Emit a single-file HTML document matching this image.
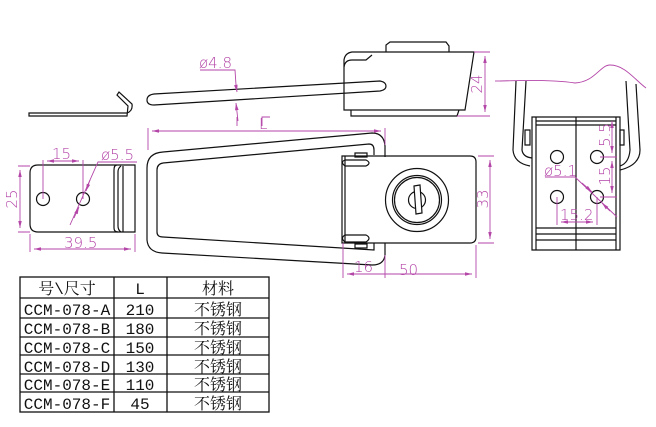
<!DOCTYPE html>
<html><head><meta charset="utf-8"><style>
html,body{margin:0;padding:0;background:#fff;}
svg{display:block}
.k{fill:none;stroke:#111;stroke-width:1.2}
.m{fill:none;stroke:#b446a8;stroke-width:0.9}
.t{fill:#b446a8;font-family:"DejaVu Sans","Liberation Sans",sans-serif;font-size:15px;font-weight:200}
.tb{font-family:"Liberation Mono","Noto Serif CJK SC",monospace;font-size:16px;fill:#111}
</style></head><body>
<svg width="656" height="427" viewBox="0 0 656 427" xmlns="http://www.w3.org/2000/svg">
<defs><marker id="a" markerWidth="8" markerHeight="6" refX="8" refY="3" orient="auto-start-reverse"><path d="M0,1 L8,3 L0,5" fill="#b446a8"/></marker></defs>

<!-- top side view -->
<path class="k" d="M29,113 L127,113 Q133,111 132,104 L119,92 L117,95 L128,106 L127,116 L29,116 Z"/>
<path class="k" d="M154,94 L380,81 Q386,82 386,86 Q386,90 380,91 L154,105 Q147,105 147,100 Q147,95 154,94 Z"/>
<path class="k" d="M344,60 Q345,53 352,52 L474,52 L465,110 L344,110 Z"/>
<path class="k" d="M344,67 Q345,60 352,60 L366,60 L372,55"/>
<path class="k" d="M386,52 L386,45 L390,42 L446,42 L449,46 L449,52"/>
<path class="k" d="M351,110 L351,116 L457,116 L459,110"/>
<path class="m" d="M200,70 L235,70 L236,85"/>
<path class="m" d="M238,121 L236,103" marker-end="url(#a)"/>
<path class="m" d="M236,86 L237,92" marker-end="url(#a)"/>
<text class="t" x="199" y="68">ø4.8</text>
<path class="m" d="M474,52 L490,52 M457,116 L490,116"/>
<path class="m" d="M485,56 L485,112" marker-start="url(#a)" marker-end="url(#a)"/>
<text class="t" transform="translate(482,84) rotate(-90)" text-anchor="middle">24</text>
<path class="m" d="M495,81 L500,81"/>

<!-- left bracket -->
<path class="k" d="M38,165 L135,165 L135,232 L38,232 Q30,232 30,224 L30,173 Q30,165 38,165 Z"/>
<path class="k" d="M117,165 Q114,165 114,170 L114,228 Q114,232 118,232 M121,166 Q118,168 118,172 L118,226 Q118,230 121,232 M123,166 L123,232"/>
<circle class="k" cx="43" cy="199" r="6.5"/>
<circle class="k" cx="83" cy="199" r="6.5"/>
<path class="m" d="M43,199 L43,160 M83,199 L83,160"/>
<path class="m" d="M47,161 L79,161" marker-start="url(#a)" marker-end="url(#a)"/>
<text class="t" x="52" y="159">15</text>
<path class="m" d="M70,225 L98,162 L137,162"/>
<path class="m" d="M90,180 L86,191" marker-end="url(#a)"/>
<path class="m" d="M74,218 L79,207" marker-end="url(#a)"/>
<text class="t" x="101" y="160">ø5.5</text>
<path class="m" d="M18,166 L30,166 M18,232 L30,232"/>
<path class="m" d="M20,170 L20,228" marker-start="url(#a)" marker-end="url(#a)"/>
<text class="t" transform="translate(17,199) rotate(-90)" text-anchor="middle">25</text>
<path class="m" d="M30,234 L30,252 M135,234 L135,252"/>
<path class="m" d="M34,249 L131,249" marker-start="url(#a)" marker-end="url(#a)"/>
<text class="t" x="64" y="248">39.5</text>

<!-- main latch handle -->
<path class="k" d="M163,152 L372,133 Q384,133 385,146 L385,157"/>
<path class="k" d="M163,152 Q147,153 147,168 L147,240 Q148,252 162,253 L372,265 Q384,265 385,255 L385,243"/>
<path class="k" d="M163,163 L369,144 Q374,144 374,150 L374,155"/>
<path class="k" d="M163,163 Q157,164 157,170 L157,232 Q157,237 163,237 L374,250 L374,243"/>
<path class="k" d="M342,156 L470,156 Q476,156 476,162 L476,237 Q476,243 470,243 L342,243 Z"/>
<path class="k" d="M345,156 L345,243"/>
<path class="k" d="M345,160 Q340,162 345,166 L366,166 Q372,163 366,160 Z M355,153 L367,153 L367,157 L355,157 Z"/>
<path class="k" d="M345,235 Q340,238 345,242 L366,242 Q372,238 366,235 Z M355,244 L367,244 L367,248 L355,248 Z"/>
<circle class="k" cx="417" cy="200" r="31.5"/>
<circle class="k" cx="417" cy="200" r="24.5"/>
<circle class="k" cx="417" cy="200" r="22.5"/>
<circle class="k" cx="417" cy="200" r="8.5"/>
<path class="k" d="M414,186 L420,185 L422,213 L416,214 Z" style="fill:#fff"/>
<path class="m" d="M148,150 L148,128 M385,145 L385,128"/>
<path class="m" d="M152,131 L381,131" marker-start="url(#a)" marker-end="url(#a)"/>
<path class="m" d="M237,126 L237,117 M262,126 L262,117 L270,117"/>
<text class="t" x="259" y="129" font-size="13">L</text>
<path class="m" d="M478,156 L494,156 M478,243 L494,243"/>
<path class="m" d="M490,160 L490,239" marker-start="url(#a)" marker-end="url(#a)"/>
<text class="t" transform="translate(488,199) rotate(-90)" text-anchor="middle">33</text>
<path class="m" d="M343,243 L343,278 M385,255 L385,278 M476,245 L476,278"/>
<path class="m" d="M347,274 L472,274" marker-start="url(#a)" marker-end="url(#a)"/>
<text class="t" x="354" y="272">16</text>
<text class="t" x="399" y="275">50</text>

<!-- right view -->
<path class="m" d="M500,81 C530,80 555,80 575,83 C595,82 600,65 610,65 C625,65 635,80 646,88"/>
<path class="k" d="M516,81 L513,150 Q514,163 530,166 M526,81 L522,150 Q523,157 532,158"/>
<path class="k" d="M626,81 L630,150 Q629,163 620,166 M636,84 L640,150 Q640,165 620,170"/>
<path class="k" d="M525,130 L525,145 L530,145 L530,130 Z M620,130 L620,145 L624,145 L624,130 Z"/>
<path class="k" d="M532,117 L620,117 L620,250 L532,250 Z"/>
<path class="k" d="M536,117 L536,250 M616,117 L616,250 M536,121 L616,121 M536,125 L616,125 M536,228 L616,228 M536,234 L616,234 M536,240 L616,240"/>
<path class="k" d="M576,117 L576,250" stroke-width="0.6"/>
<circle class="k" cx="557" cy="157" r="6.5"/>
<circle class="k" cx="597" cy="157" r="6.5"/>
<circle class="k" cx="557" cy="197" r="6.5"/>
<circle class="k" cx="597" cy="197" r="6.5"/>
<path class="m" d="M545,177 L575,177 L617,217"/>
<path class="m" d="M582,183 L592,192" marker-end="url(#a)"/>
<path class="m" d="M610,211 L602,203" marker-end="url(#a)"/>
<text class="t" x="544" y="176">ø5.1</text>
<path class="m" d="M557,197 L557,225 M597,197 L597,225"/>
<path class="m" d="M561,222 L593,222" marker-start="url(#a)" marker-end="url(#a)"/>
<text class="t" x="560" y="220">15.2</text>
<path class="m" d="M600,157 L617,157 M600,197 L617,197"/>
<path class="m" d="M612,121 L612,153" marker-start="url(#a)" marker-end="url(#a)"/>
<path class="m" d="M612,161 L612,193" marker-start="url(#a)" marker-end="url(#a)"/>
<text class="t" transform="translate(610,135) rotate(-90)" text-anchor="middle">5.5</text>
<text class="t" transform="translate(610,176) rotate(-90)" text-anchor="middle">15</text>

<!-- table -->
<g stroke="#111" stroke-width="1.3" fill="none">
<rect x="20" y="277" width="249" height="135"/>
<path d="M20,298 H269 M20,318 H269 M20,337 H269 M20,355 H269 M20,374 H269 M20,392 H269 M114,277 V412 M167,277 V412"/>
</g>
<g class="tb" text-anchor="middle">
<text x="67" y="294">号\尺寸</text><text x="140" y="294">L</text><text x="218" y="294">材料</text>
<text x="67" y="315">CCM-078-A</text><text x="140" y="315">210</text><text x="218" y="315">不锈钢</text>
<text x="67" y="334">CCM-078-B</text><text x="140" y="334">180</text><text x="218" y="334">不锈钢</text>
<text x="67" y="353">CCM-078-C</text><text x="140" y="353">150</text><text x="218" y="353">不锈钢</text>
<text x="67" y="372">CCM-078-D</text><text x="140" y="372">130</text><text x="218" y="372">不锈钢</text>
<text x="67" y="390">CCM-078-E</text><text x="140" y="390">110</text><text x="218" y="390">不锈钢</text>
<text x="67" y="409">CCM-078-F</text><text x="140" y="409">45</text><text x="218" y="409">不锈钢</text>
</g>
</svg>
</body></html>
